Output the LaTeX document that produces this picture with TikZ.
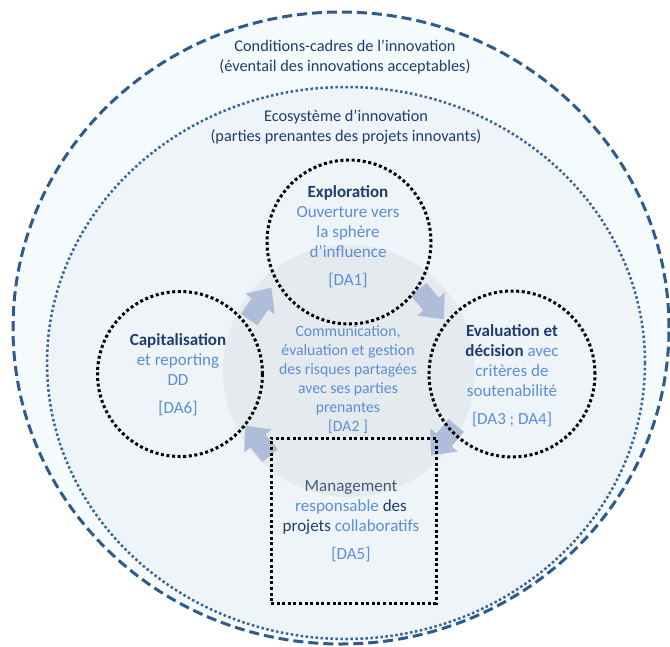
\documentclass[tikz,border=0pt]{standalone}
\usepackage{fontspec}
\setmainfont{Carlito}
\definecolor{navy}{HTML}{1F3D6E}
\definecolor{lblue}{HTML}{5B8ED6}
\definecolor{mgray}{HTML}{46587A}
\definecolor{outerline}{HTML}{2F5A8C}
\definecolor{innerline}{HTML}{3B6396}
\definecolor{outerfill}{HTML}{F5FAFD}
\definecolor{innerfill}{HTML}{EEF4F8}
\definecolor{corefill}{HTML}{E4EAEE}
\definecolor{arrowc}{HTML}{B0BDD8}
\begin{document}
\begin{tikzpicture}[x=1pt,y=-1pt,
  ring/.style={circle, draw=black, line width=3pt, dash pattern=on 3pt off 2.6pt, inner sep=0pt},
  boxring/.style={rectangle, draw=black, line width=3pt, dash pattern=on 3pt off 2.6pt, inner sep=0pt},
  lbl/.style={align=center, text=navy, font=\fontsize{16.3}{20}\selectfont},
  nodetxt/.style={align=center, text=lblue, font=\fontsize{17}{20}\selectfont},
  ctxt/.style={align=center, text=lblue, font=\fontsize{15.7}{19}\selectfont},
  flowarrow/.style={fill=arrowc}
]
\useasboundingbox (0,0) rectangle (670,646);
\fill[white] (0,0) rectangle (670,646);
% outer frame
\draw[fill=outerfill, draw=outerline, line width=3pt, dash pattern=on 10pt off 5pt]
  (341,328) ellipse [x radius=328pt, y radius=316pt];
% ecosystem
\draw[fill=innerfill, draw=innerline, line width=2.5pt, dash pattern=on 2.5pt off 2.5pt]
  (346,363) ellipse [x radius=299pt, y radius=276pt];
% core
\fill[corefill] (349,371) circle [radius=126pt];

% labels
\node[lbl] (cond) at (345,57) {Conditions-cadres de l’innovation\\(éventail des innovations acceptables)};
\node[lbl] (eco) at (346,127.5) {Ecosystème d’innovation\\(parties prenantes des projets innovants)};

% block arrows (clockwise cycle)
\foreach \px/\py/\ang in {260/304/55, 431/304/-50, 444/440/-130, 258/441/130}{
  \fill[flowarrow, shift={(\px,\py)}, rotate=\ang]
    (-19,-10) -- (0,-10) -- (0,-18) -- (20,0) -- (0,18) -- (0,10) -- (-19,10) -- cycle;
}

% rings
\node[ring, minimum size=164pt] (expl) at (349,242) {};
\node[ring, minimum size=165pt] (capi) at (180,374) {};
\node[ring, minimum size=166pt] (eval) at (512,374) {};
\node[boxring, minimum width=165pt, minimum height=165pt] (mgmt) at (353.5,520.5) {};

% texts
\node[nodetxt] (explT) at (348,237) {\textcolor{navy}{\textbf{Exploration}}\\Ouverture vers\\la sphère\\d'influence\\[8pt][DA1]};
\node[nodetxt] (capiT) at (178,375) {\textcolor{navy}{\textbf{Capitalisation}}\\et reporting\\DD\\[8pt][DA6]};
\node[nodetxt] (evalT) at (512,375.5) {\textcolor{navy}{\textbf{Evaluation et}}\\\textcolor{navy}{\textbf{décision}} avec\\critères de\\soutenabilité\\[8pt][DA3 ; DA4]};
\node[ctxt] (commT) at (348,379.5) {Communication,\\évaluation et gestion\\des risques partagées\\avec ses parties\\prenantes\\{[DA2 ]}};
\node[nodetxt] (mgmtT) at (351,521.5) {\textcolor{mgray}{Management}\\responsable \textcolor{navy}{des}\\\textcolor{navy}{projets} collaboratifs\\[8pt][DA5]};
\end{tikzpicture}
\end{document}
